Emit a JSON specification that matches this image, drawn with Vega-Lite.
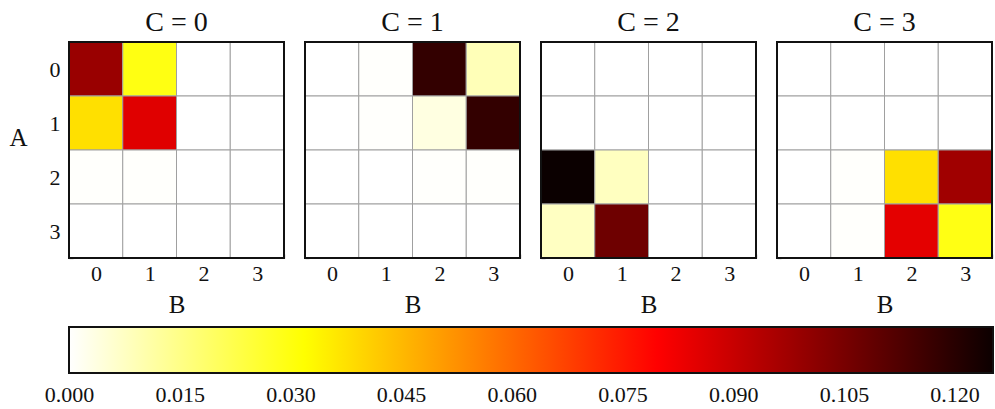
{
  "$schema": "https://vega.github.io/schema/vega-lite/v6.json",
  "padding": {"left": 8, "top": 9, "right": 0, "bottom": 0},
  "background": "white",
  "config": {
    "font": "Liberation Serif",
    "view": {"stroke": null},
    "axis": {"labelFont": "Liberation Serif", "labelFontSize": 22, "labelColor": "#111", "titleFont": "Liberation Serif", "titleFontSize": 25, "titleFontWeight": "normal", "titleColor": "#111", "tickColor": "#222", "tickWidth": 1.2, "tickSize": -4, "domain": false, "grid": false, "zindex": 1},
    "title": {"font": "Liberation Serif", "fontSize": 28, "fontWeight": "normal", "color": "#111", "offset": 4, "frame": "group", "anchor": "middle"}
  },
  "datasets": {
    "cells": [
      {"C": 0, "A": 0, "B": 0, "v": 0.0988}, {"C": 0, "A": 0, "B": 1, "v": 0.0296}, {"C": 0, "A": 0, "B": 2, "v": 0}, {"C": 0, "A": 0, "B": 3, "v": 0},
      {"C": 0, "A": 1, "B": 0, "v": 0.0377}, {"C": 0, "A": 1, "B": 1, "v": 0.0855}, {"C": 0, "A": 1, "B": 2, "v": 0}, {"C": 0, "A": 1, "B": 3, "v": 0},
      {"C": 0, "A": 2, "B": 0, "v": 0.0004}, {"C": 0, "A": 2, "B": 1, "v": 0.0004}, {"C": 0, "A": 2, "B": 2, "v": 0}, {"C": 0, "A": 2, "B": 3, "v": 0},
      {"C": 0, "A": 3, "B": 0, "v": 0}, {"C": 0, "A": 3, "B": 1, "v": 0}, {"C": 0, "A": 3, "B": 2, "v": 0}, {"C": 0, "A": 3, "B": 3, "v": 0},
      {"C": 1, "A": 0, "B": 0, "v": 0}, {"C": 1, "A": 0, "B": 1, "v": 0.0004}, {"C": 1, "A": 0, "B": 2, "v": 0.1179}, {"C": 1, "A": 0, "B": 3, "v": 0.0089},
      {"C": 1, "A": 1, "B": 0, "v": 0}, {"C": 1, "A": 1, "B": 1, "v": 0.0004}, {"C": 1, "A": 1, "B": 2, "v": 0.0038}, {"C": 1, "A": 1, "B": 3, "v": 0.118},
      {"C": 1, "A": 2, "B": 0, "v": 0}, {"C": 1, "A": 2, "B": 1, "v": 0}, {"C": 1, "A": 2, "B": 2, "v": 0.0004}, {"C": 1, "A": 2, "B": 3, "v": 0.0004},
      {"C": 1, "A": 3, "B": 0, "v": 0}, {"C": 1, "A": 3, "B": 1, "v": 0}, {"C": 1, "A": 3, "B": 2, "v": 0}, {"C": 1, "A": 3, "B": 3, "v": 0},
      {"C": 2, "A": 0, "B": 0, "v": 0}, {"C": 2, "A": 0, "B": 1, "v": 0}, {"C": 2, "A": 0, "B": 2, "v": 0}, {"C": 2, "A": 0, "B": 3, "v": 0},
      {"C": 2, "A": 1, "B": 0, "v": 0}, {"C": 2, "A": 1, "B": 1, "v": 0}, {"C": 2, "A": 1, "B": 2, "v": 0}, {"C": 2, "A": 1, "B": 3, "v": 0},
      {"C": 2, "A": 2, "B": 0, "v": 0.1255}, {"C": 2, "A": 2, "B": 1, "v": 0.0079}, {"C": 2, "A": 2, "B": 2, "v": 0}, {"C": 2, "A": 2, "B": 3, "v": 0},
      {"C": 2, "A": 3, "B": 0, "v": 0.0076}, {"C": 2, "A": 3, "B": 1, "v": 0.1069}, {"C": 2, "A": 3, "B": 2, "v": 0}, {"C": 2, "A": 3, "B": 3, "v": 0},
      {"C": 3, "A": 0, "B": 0, "v": 0}, {"C": 3, "A": 0, "B": 1, "v": 0}, {"C": 3, "A": 0, "B": 2, "v": 0}, {"C": 3, "A": 0, "B": 3, "v": 0},
      {"C": 3, "A": 1, "B": 0, "v": 0}, {"C": 3, "A": 1, "B": 1, "v": 0}, {"C": 3, "A": 1, "B": 2, "v": 0}, {"C": 3, "A": 1, "B": 3, "v": 0},
      {"C": 3, "A": 2, "B": 0, "v": 0}, {"C": 3, "A": 2, "B": 1, "v": 0.0004}, {"C": 3, "A": 2, "B": 2, "v": 0.0377}, {"C": 3, "A": 2, "B": 3, "v": 0.0975},
      {"C": 3, "A": 3, "B": 0, "v": 0}, {"C": 3, "A": 3, "B": 1, "v": 0.0004}, {"C": 3, "A": 3, "B": 2, "v": 0.0848}, {"C": 3, "A": 3, "B": 3, "v": 0.0294}
    ],
    "bar": [{"lo": 0, "hi": 0.1252}]
  },
  "vconcat": [
    {
      "hconcat": [
        {
          "width": 215, "height": 216,
          "title": {"text": "C = 0", "offset": -6},
          "data": {"name": "cells"},
          "transform": [{"filter": "datum.C == 0"}],
          "layer": [
            {"mark": {"type": "rect", "stroke": "#a0a0a0", "strokeWidth": 1},
             "encoding": {
               "x": {"field": "B", "type": "ordinal", "scale": {"paddingInner": 0, "paddingOuter": 0}, "axis": {"title": "B", "labelAngle": 0, "tickBand": "extent", "labelPadding": 9, "titlePadding": 8}},
               "y": {"field": "A", "type": "ordinal", "scale": {"paddingInner": 0, "paddingOuter": 0}, "axis": {"title": "A", "titleAngle": 0, "titleAlign": "center", "titleBaseline": "bottom", "tickBand": "extent", "labelPadding": 13, "titlePadding": 31}},
               "color": {"field": "v", "type": "quantitative", "scale": {"domain": [0, 0.03188, 0.0797, 0.1255], "range": ["#ffffff", "#ffff00", "#ff0000", "#0b0000"], "interpolate": "rgb"}, "legend": null}
             }},
            {"mark": {"type": "rect", "fill": "transparent", "stroke": "#111", "strokeWidth": 2}, "encoding": {}}
          ]
        },
        {
          "width": 215, "height": 216,
          "title": "C = 1",
          "data": {"name": "cells"},
          "transform": [{"filter": "datum.C == 1"}],
          "layer": [
            {"mark": {"type": "rect", "stroke": "#a0a0a0", "strokeWidth": 1},
             "encoding": {
               "x": {"field": "B", "type": "ordinal", "scale": {"paddingInner": 0, "paddingOuter": 0}, "axis": {"title": "B", "labelAngle": 0, "tickBand": "extent", "labelPadding": 9, "titlePadding": 8}},
               "y": {"field": "A", "type": "ordinal", "scale": {"paddingInner": 0, "paddingOuter": 0}, "axis": {"title": null, "labels": false, "tickBand": "extent"}},
               "color": {"field": "v", "type": "quantitative", "scale": {"domain": [0, 0.03188, 0.0797, 0.1255], "range": ["#ffffff", "#ffff00", "#ff0000", "#0b0000"], "interpolate": "rgb"}, "legend": null}
             }},
            {"mark": {"type": "rect", "fill": "transparent", "stroke": "#111", "strokeWidth": 2}, "encoding": {}}
          ]
        },
        {
          "width": 215, "height": 216,
          "title": "C = 2",
          "data": {"name": "cells"},
          "transform": [{"filter": "datum.C == 2"}],
          "layer": [
            {"mark": {"type": "rect", "stroke": "#a0a0a0", "strokeWidth": 1},
             "encoding": {
               "x": {"field": "B", "type": "ordinal", "scale": {"paddingInner": 0, "paddingOuter": 0}, "axis": {"title": "B", "labelAngle": 0, "tickBand": "extent", "labelPadding": 9, "titlePadding": 8}},
               "y": {"field": "A", "type": "ordinal", "scale": {"paddingInner": 0, "paddingOuter": 0}, "axis": {"title": null, "labels": false, "tickBand": "extent"}},
               "color": {"field": "v", "type": "quantitative", "scale": {"domain": [0, 0.03188, 0.0797, 0.1255], "range": ["#ffffff", "#ffff00", "#ff0000", "#0b0000"], "interpolate": "rgb"}, "legend": null}
             }},
            {"mark": {"type": "rect", "fill": "transparent", "stroke": "#111", "strokeWidth": 2}, "encoding": {}}
          ]
        },
        {
          "width": 215, "height": 216,
          "title": "C = 3",
          "data": {"name": "cells"},
          "transform": [{"filter": "datum.C == 3"}],
          "layer": [
            {"mark": {"type": "rect", "stroke": "#a0a0a0", "strokeWidth": 1},
             "encoding": {
               "x": {"field": "B", "type": "ordinal", "scale": {"paddingInner": 0, "paddingOuter": 0}, "axis": {"title": "B", "labelAngle": 0, "tickBand": "extent", "labelPadding": 9, "titlePadding": 8}},
               "y": {"field": "A", "type": "ordinal", "scale": {"paddingInner": 0, "paddingOuter": 0}, "axis": {"title": null, "labels": false, "tickBand": "extent"}},
               "color": {"field": "v", "type": "quantitative", "scale": {"domain": [0, 0.03188, 0.0797, 0.1255], "range": ["#ffffff", "#ffff00", "#ff0000", "#0b0000"], "interpolate": "rgb"}, "legend": null}
             }},
            {"mark": {"type": "rect", "fill": "transparent", "stroke": "#111", "strokeWidth": 2}, "encoding": {}}
          ]
        }
      ],
      "spacing": 19,
      "resolve": {"scale": {"x": "independent", "y": "independent"}}
    },
    {
      "width": 924, "height": 46,
      "data": {"name": "bar"},
      "mark": {"type": "rect", "stroke": "#111", "strokeWidth": 2, "fill": {"gradient": "linear", "x1": 0, "x2": 1, "y1": 0, "y2": 0, "stops": [{"offset": 0, "color": "#ffffff"}, {"offset": 0.2546, "color": "#ffff00"}, {"offset": 0.6365, "color": "#ff0000"}, {"offset": 1, "color": "#0c0000"}]}},
      "encoding": {
        "x": {"field": "lo", "type": "quantitative", "scale": {"domain": [0, 0.1252], "nice": false}, "axis": {"title": null, "values": [0, 0.015, 0.03, 0.045, 0.06, 0.075, 0.09, 0.105, 0.12], "format": ".3f", "labelPadding": 15, "labelFlush": false, "labelOverlap": false}},
        "x2": {"field": "hi"}
      }
    }
  ],
  "spacing": 9
}
